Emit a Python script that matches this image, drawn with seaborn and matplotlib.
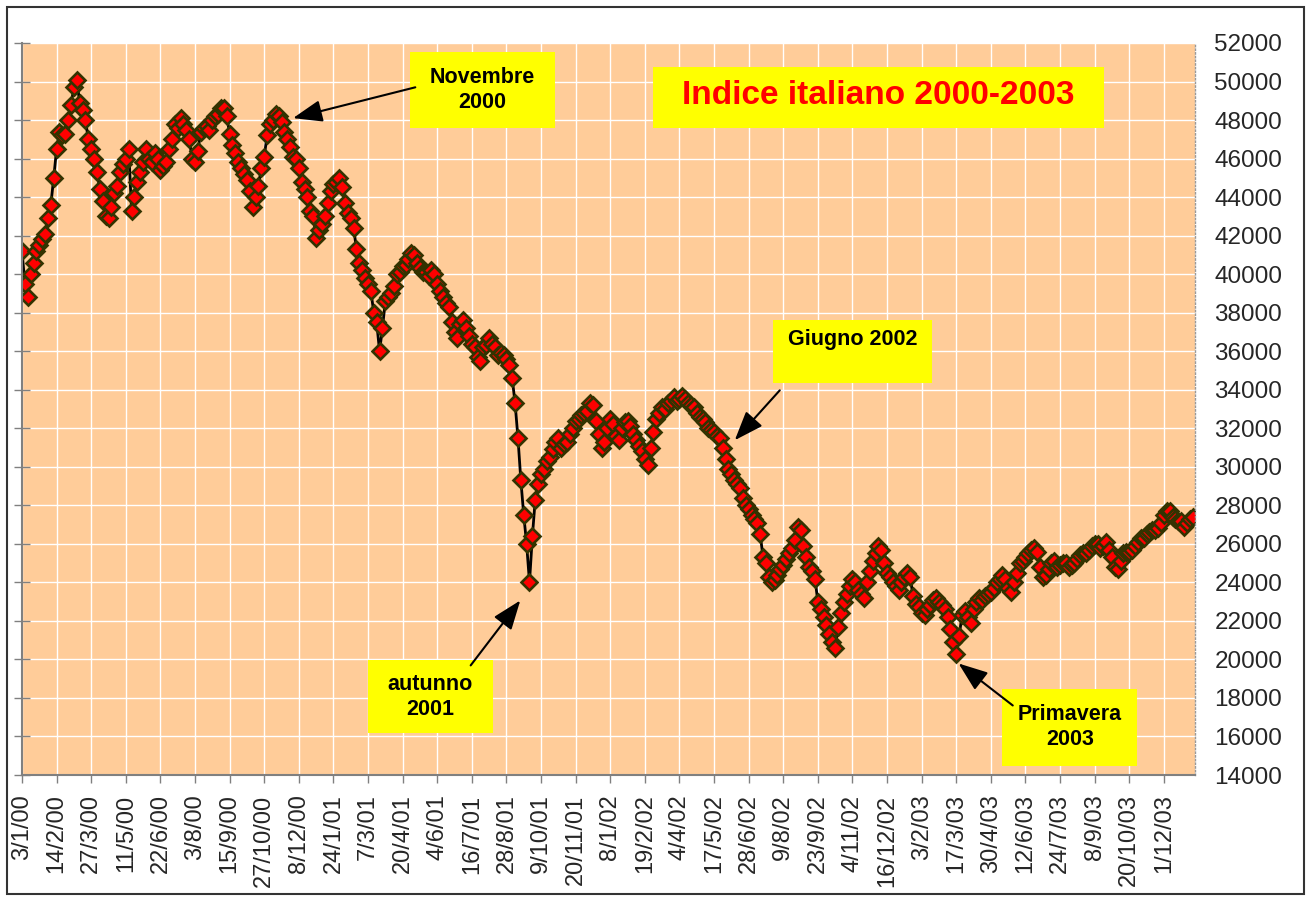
import numpy as np
import pandas as pd
import matplotlib
matplotlib.use("Agg")
import matplotlib.pyplot as plt
from matplotlib import font_manager
from matplotlib.patches import Rectangle
import seaborn as sns

# index level, one value every 5 trading days (3/1/00 -> end 2003)
weekly_values = [
    41200, 38800, 40600, 41500, 42100, 43600, 46500, 47200, 48000, 49700,
    48900, 48000, 46500, 45300, 43800, 42900, 44200, 45300, 46000, 43300,
    44800, 45800, 46000, 46300, 45400, 45800, 47000, 47600, 47800, 47000,
    45800, 47400, 47700, 48000, 48300, 48600, 47300, 46300, 45500, 44900,
    43500, 44600, 46100, 47800, 48300, 47900, 47000, 46100, 45500, 44400,
    43300, 41900, 42600, 43700, 44700, 45000, 43700, 42900, 41300, 40200,
    39500, 38000, 36000, 38600, 39000, 40000, 40400, 40800, 41000, 40300,
    40100, 40200, 39500, 38800, 38300, 37000, 37400, 37200, 36400, 35700,
    36200, 36700, 36200, 35900, 35600, 34600, 31500, 27500, 24000, 28300,
    29600, 30300, 30900, 31500, 31200, 31700, 32400, 32700, 32900, 33200,
    31700, 31300, 32500, 31600, 32000, 32400, 31700, 31100, 30400, 31000,
    32500, 33100, 33300, 33600, 33500, 33500, 33200, 32800, 32500, 32000,
    31800, 31500, 30400, 29600, 29100, 28400, 27800, 27300, 26500, 25000,
    24000, 24400, 24900, 25500, 26200, 26700, 25300, 24600, 23000, 22200,
    21300, 20600, 22400, 23400, 24200, 23600, 23200, 24600, 25500, 25700,
    24500, 24000, 23600, 24300, 24300, 22900, 22400, 22600, 23100, 23000,
    22600, 21600, 20300, 22300, 22200, 22600, 23200, 23300, 23500, 24000,
    24400, 23700, 24000, 25000, 25300, 25700, 25600, 24300, 24700, 25100,
    24900, 25000, 24900, 25200, 25500, 25700, 26000, 25800, 26100, 25300,
    24700, 25500, 25600, 25900, 26300, 26500, 26700, 26800, 27500, 27700,
    27300, 27200, 27100, 27400,
]
# values read half way between two weekly points
midweek_values = [
    39500, 40000, 41200, 41800, 42900, 45000, 47400, 47300, 48800, 50100,
    48500, 47000, 46000, 44400, 43000, 43500, 44600, 45700, 46500, 44000,
    45300, 46500, 45800, 46000, 45600, 46500, 47800, 48100, 47500, 46000,
    46400, 47600, 47500, 48200, 48600, 48200, 46700, 45800, 45200, 44300,
    44000, 45500, 47200, 48000, 48200, 47400, 46600, 46000, 44800, 44000,
    43000, 42300, 43000, 44300, 44800, 44500, 43200, 42400, 40600, 39800,
    39100, 37500, 37200, 38800, 39400, 40100, 40500, 41100, 40600, 40100,
    39900, 40000, 39100, 38500, 37500, 36700, 37600, 36800, 36200, 35500,
    36300, 36400, 35800, 35800, 35300, 33300, 29300, 26000, 26400, 29100,
    29900, 30500, 31300, 31000, 31300, 32000, 32500, 32800, 33300, 32400,
    31000, 32000, 32200, 31400, 32300, 32100, 31400, 30800, 30100, 31800,
    32800, 33000, 33400, 33400, 33700, 33300, 33100, 32600, 32300, 31900,
    31600, 31000, 29900, 29300, 28900, 28000, 27500, 27100, 25300, 24300,
    24100, 24700, 25200, 25800, 26900, 25900, 24800, 24200, 22600, 21800,
    20900, 21700, 23000, 23800, 24000, 23400, 24000, 25100, 25900, 25000,
    24300, 23800, 24000, 24500, 23300, 22700, 22300, 22800, 23200, 22800,
    22200, 20900, 21200, 22500, 21900, 23000, 23100, 23400, 23700, 24200,
    24200, 23500, 24500, 25100, 25500, 25800, 24800, 24400, 25000, 24800,
    25000, 24800, 25000, 25400, 25500, 25900, 26000, 25900, 25700, 24800,
    25100, 25600, 25700, 26100, 26300, 26600, 26700, 27100, 27700, 27400,
    27200, 26900, 27300,
]
step_days = 2.5

# category labels, one every 30 trading days
tick_labels = [
    "3/1/00", "14/2/00", "27/3/00", "11/5/00", "22/6/00", "3/8/00", "15/9/00",
    "27/10/00", "8/12/00", "24/1/01", "7/3/01", "20/4/01", "4/6/01", "16/7/01",
    "28/8/01", "9/10/01", "20/11/01", "8/1/02", "19/2/02", "4/4/02", "17/5/02",
    "28/6/02", "9/8/02", "23/9/02", "4/11/02", "16/12/02", "3/2/03", "17/3/03",
    "30/4/03", "12/6/03", "24/7/03", "8/9/03", "20/10/03", "1/12/03",
]
tick_every = 30
y_ticks = list(range(14000, 52001, 2000))

title_text = "Indice italiano 2000-2003"
# (text, box x0, box x1, box y0, box y1, arrow start, arrow tip)
notes = [
    ("Novembre\n2000", 336, 462, 47580, 51530, (341, 49700), (235, 48100)),
    ("Giugno 2002\n ", 651, 789, 34340, 37610, (657, 33970), (618, 31380)),
    ("autunno\n2001", 300, 408, 16160, 19950, (389, 19690), (432, 23060)),
    ("Primavera\n2003", 850, 967, 14490, 18490, (859, 17610), (812, 19790)),
]


def main() -> None:
    sns.set_style("whitegrid", {"axes.facecolor": "#FFCC99", "grid.color": "white"})
    plt.rcParams["font.family"] = ["Liberation Sans", "DejaVu Sans"]

    names = {f.name for f in font_manager.fontManager.ttflist}
    if "Liberation Sans Narrow" in names:
        note_family = ["Liberation Sans Narrow", "Liberation Sans"]
        note_size, title_size = 18.5, 29
    else:
        note_family = ["Liberation Sans", "DejaVu Sans"]
        note_size, title_size = 15.5, 24

    values = [None] * (len(weekly_values) + len(midweek_values))
    values[0::2] = weekly_values
    values[1::2] = midweek_values
    df = pd.DataFrame({
        "giorno": np.arange(len(values)) * step_days,
        "indice": values,
    })

    fig = plt.figure(figsize=(13.06, 8.97), dpi=100)
    ax = fig.add_axes([22 / 1306, 1 - 775 / 897, (1195 - 22) / 1306, (775 - 43) / 897])

    sns.lineplot(
        data=df,
        x="giorno",
        y="indice",
        ax=ax,
        color="black",
        linewidth=2,
        marker="D",
        markersize=8,
        markerfacecolor="#FF0000",
        markeredgecolor="#333300",
        markeredgewidth=1.9,
    )

    ax.set_xlim(0, 1017)
    ax.set_ylim(14000, 52000)
    ax.set_xticks(np.arange(len(tick_labels)) * tick_every)
    ax.set_xticklabels(tick_labels, rotation=90)
    ax.set_yticks(y_ticks)
    ax.set_yticklabels([str(v) for v in y_ticks])
    ax.set_xlabel("")
    ax.set_ylabel("")
    ax.grid(True, color="white", linewidth=1)

    ax.tick_params(axis="x", direction="out", length=6, width=1, color="#808080",
                   labelsize=17, pad=8, bottom=True)
    ax.tick_params(axis="y", direction="inout", length=12, width=1, color="#808080",
                   labelsize=17.5, pad=8, left=True, right=False,
                   labelleft=False, labelright=True)

    for side in ["left", "bottom"]:
        ax.spines[side].set_color("#808080")
        ax.spines[side].set_linewidth(1.5)
    ax.spines["top"].set_visible(False)
    ax.spines["right"].set_color("#999999")
    ax.spines["right"].set_linestyle(":")
    ax.spines["right"].set_linewidth(1)

    # title box
    ax.add_patch(Rectangle((547, 47580), 391, 3170, facecolor="#FFFF00",
                           edgecolor="none", zorder=5))
    ax.text(742, 49300, title_text, color="#FF0000", fontsize=title_size,
            fontweight="bold", family=note_family, ha="center", va="center", zorder=6)

    # labelled arrows
    for text, x0, x1, y0, y1, start, tip in notes:
        ax.add_patch(Rectangle((x0, y0), x1 - x0, y1 - y0, facecolor="#FFFF00",
                               edgecolor="none", zorder=5))
        ax.text((x0 + x1) / 2, (y0 + y1) / 2, text, color="black", fontsize=note_size,
                fontweight="bold", family=note_family, ha="center", va="center",
                linespacing=1.25, zorder=6)
        ax.annotate("", xy=tip, xytext=start, annotation_clip=False, zorder=7,
                    arrowprops=dict(arrowstyle="-|>,head_length=1.2,head_width=0.45",
                                    color="black", lw=1.5, mutation_scale=15,
                                    shrinkA=0, shrinkB=0))

    # outer chart frame
    fig.patches.append(Rectangle((7 / 1306, 3 / 897), 1297 / 1306, 887 / 897,
                                 transform=fig.transFigure, fill=False,
                                 edgecolor="#333333", linewidth=1.5))

    fig.savefig("out.png", dpi=100, facecolor="white")
    plt.close(fig)


if __name__ == "__main__":
    main()
